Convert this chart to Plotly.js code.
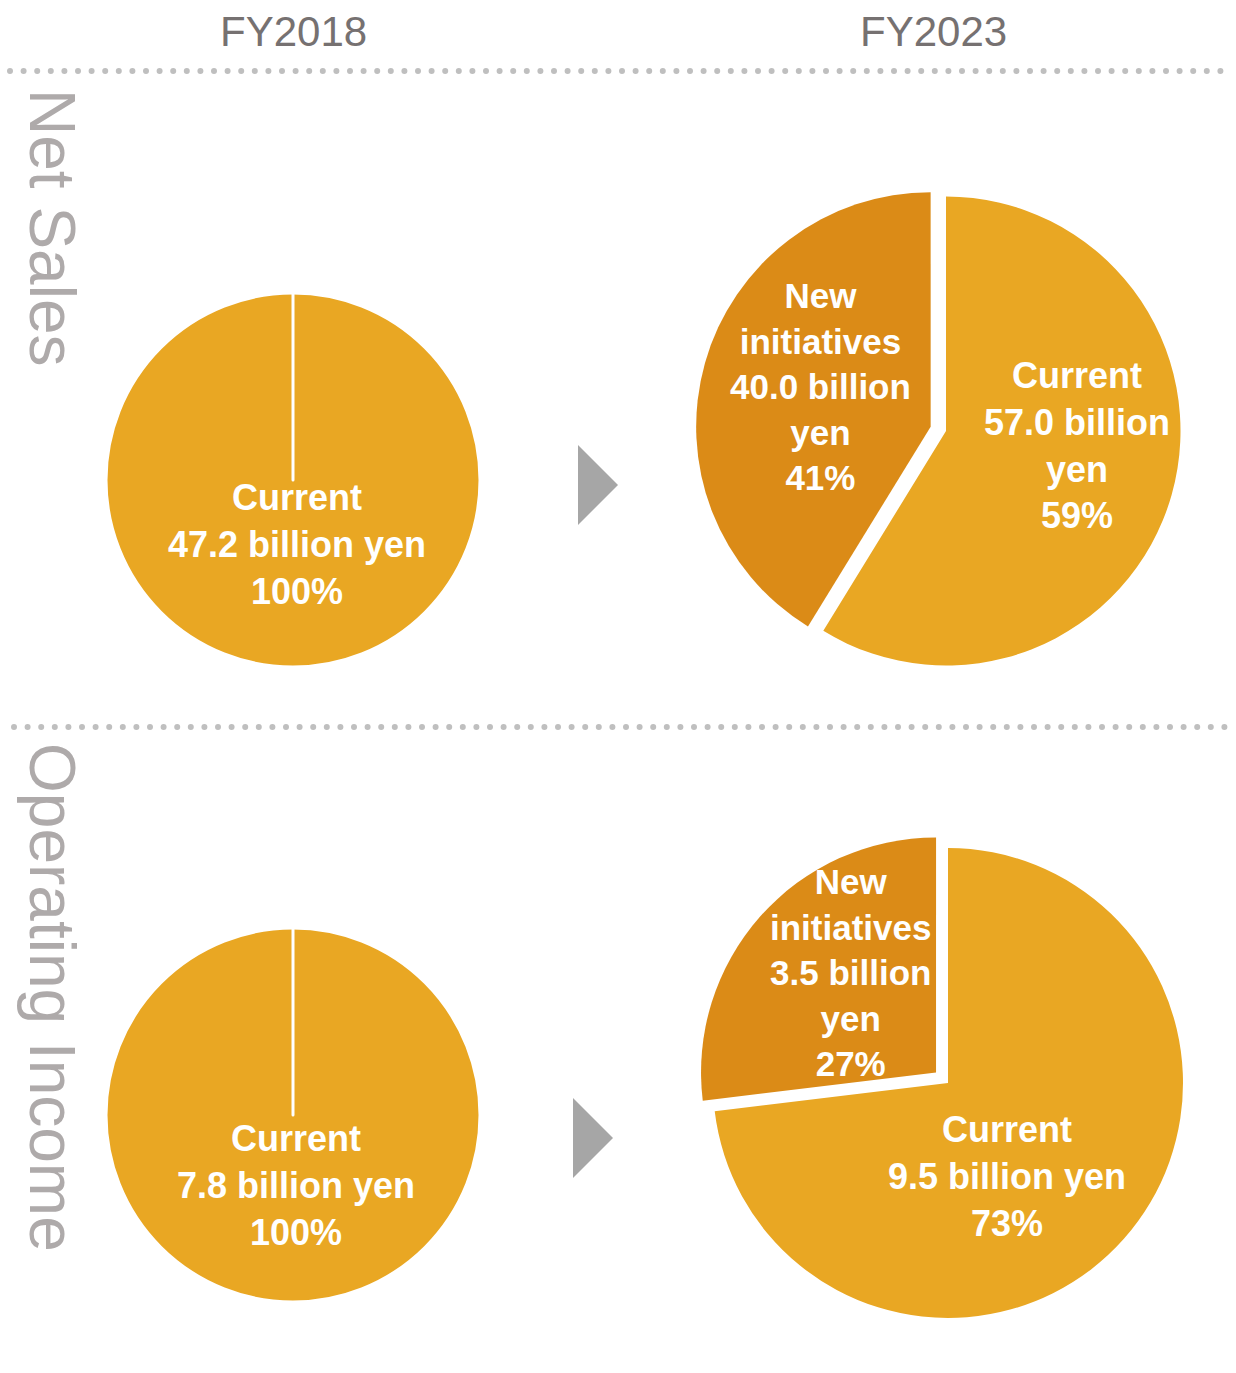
<!DOCTYPE html>
<html>
<head>
<meta charset="utf-8">
<script src="https://cdn.plot.ly/plotly-3.0.1.min.js"></script>
<style>
  html, body { margin: 0; padding: 0; background: #ffffff; }
  #chart { width: 1236px; height: 1373px; }
</style>
</head>
<body>
<div id="chart"></div>
<script>
// ---------------- DATA ----------------
const segments = ['Current', 'New initiatives'];
const years = ['FY2018', 'FY2023'];
const metrics = ['Net Sales', 'Operating Income'];
const netSalesFY2018 = [47.2, 0];     // billion yen
const netSalesFY2023 = [57.0, 40.0];  // billion yen
const opIncomeFY2018 = [7.8, 0];      // billion yen
const opIncomeFY2023 = [9.5, 3.5];    // billion yen
const unit = 'billion yen';

// ---------------- STYLE / LAYOUT ----------------
const W = 1236, H = 1373;
const colCurrent = '#E9A723';
const colNew = '#DB8B17';
const fx = p => p / W;
const fy = p => 1 - p / H;

// pie placement (pixel centre, radius, pull of 2nd slice)
const pies = [
  { vals: netSalesFY2018, cx: 293, cy: 480, r: 187, pull: 0 },
  { vals: netSalesFY2023, cx: 946, cy: 431, r: 234.5, pull: 0.068 },
  { vals: opIncomeFY2018, cx: 293, cy: 1115, r: 187, pull: 0 },
  { vals: opIncomeFY2023, cx: 948, cy: 1083, r: 235, pull: 0.068 }
];

const traces = pies.map(p => {
  const half = p.r * (1 + p.pull);
  return {
    type: 'pie',
    values: p.vals,
    labels: segments,
    sort: false,
    direction: 'clockwise',
    rotation: 0,
    pull: [0, p.pull],
    textinfo: 'none',
    hoverinfo: 'label+value+percent',
    showlegend: false,
    marker: {
      colors: [colCurrent, colNew],
      line: { color: '#ffffff', width: p.pull ? 0 : 3 }
    },
    domain: {
      x: [fx(p.cx - half), fx(p.cx + half)],
      y: [fy(p.cy + half), fy(p.cy - half)]
    }
  };
});

// label text builders
function pct(vals, i) {
  const t = vals.reduce((a, b) => a + b, 0);
  return Math.round(vals[i] / t * 100) + '%';
}
function labelText(vals, i, mode) {
  const name = mode === 'narrow' ? segments[i].replace(' ', '<br>') : segments[i];
  const v = vals[i].toFixed(1) + (mode === 'wide' ? ' ' + unit : ' billion<br>yen');
  return name + '<br>' + v + '<br>' + pct(vals, i);
}

// label positions (pixel centres) and font sizes
const labelSpecs = [
  { vals: netSalesFY2018, i: 0, mode: 'wide', x: 297, y: 544, size: 36 },
  { vals: netSalesFY2023, i: 1, mode: 'narrow', x: 820, y: 386, size: 35 },
  { vals: netSalesFY2023, i: 0, mode: 'mid', x: 1077, y: 445, size: 36 },
  { vals: opIncomeFY2018, i: 0, mode: 'wide', x: 296, y: 1185, size: 36 },
  { vals: opIncomeFY2023, i: 1, mode: 'narrow', x: 851, y: 972, size: 35 },
  { vals: opIncomeFY2023, i: 0, mode: 'wide', x: 1007, y: 1176, size: 36 }
];

const annotations = labelSpecs.map(s => ({
  xref: 'paper', yref: 'paper', x: fx(s.x), y: fy(s.y),
  xanchor: 'center', yanchor: 'middle', showarrow: false,
  text: labelText(s.vals, s.i, s.mode), align: 'center',
  font: { family: 'Liberation Sans, Arial, sans-serif', size: s.size, color: '#ffffff', weight: 'bold' }
}));

// column headers
const headerFont = { family: 'Liberation Sans, Arial, sans-serif', size: 42, color: '#767171' };
annotations.push(
  { xref: 'paper', yref: 'paper', x: fx(293), y: fy(31), xanchor: 'center', yanchor: 'middle',
    showarrow: false, text: years[0], font: headerFont },
  { xref: 'paper', yref: 'paper', x: fx(933), y: fy(31), xanchor: 'center', yanchor: 'middle',
    showarrow: false, text: years[1], font: headerFont }
);

// row labels (rotated)
const rowFont = { family: 'Liberation Sans, Arial, sans-serif', size: 64, color: '#AEAAAA' };
annotations.push(
  { xref: 'paper', yref: 'paper', x: fx(52), y: fy(227), xanchor: 'center', yanchor: 'middle',
    showarrow: false, text: metrics[0], textangle: 90, font: rowFont },
  { xref: 'paper', yref: 'paper', x: fx(52), y: fy(997), xanchor: 'center', yanchor: 'middle',
    showarrow: false, text: metrics[1], textangle: 90, font: rowFont }
);

// separators and arrows
function tri(x, y) {
  return 'M' + fx(x) + ',' + fy(y) + ' L' + fx(x) + ',' + fy(y + 80) +
         ' L' + fx(x + 40) + ',' + fy(y + 40) + ' Z';
}
const shapes = [
  { type: 'line', xref: 'paper', yref: 'paper', x0: fx(10), x1: fx(1232), y0: fy(71), y1: fy(71),
    line: { color: '#BFBFBF', width: 6, dash: 'dot' } },
  { type: 'line', xref: 'paper', yref: 'paper', x0: fx(14), x1: fx(1234), y0: fy(727), y1: fy(727),
    line: { color: '#BFBFBF', width: 6, dash: 'dot' } },
  { type: 'path', xref: 'paper', yref: 'paper', path: tri(578, 445),
    fillcolor: '#A6A6A6', line: { width: 0 } },
  { type: 'path', xref: 'paper', yref: 'paper', path: tri(573, 1098),
    fillcolor: '#A6A6A6', line: { width: 0 } }
];

const layout = {
  width: W, height: H,
  margin: { l: 0, r: 0, t: 0, b: 0 },
  paper_bgcolor: '#ffffff',
  plot_bgcolor: '#ffffff',
  showlegend: false,
  annotations: annotations,
  shapes: shapes
};

Plotly.newPlot('chart', traces, layout, { displayModeBar: false }).then(() => {
  // make separator dots round
  document.querySelectorAll('.shapelayer path').forEach(p => {
    const da = p.style.strokeDasharray || p.getAttribute('stroke-dasharray');
    if (da && p.style.strokeWidth && parseFloat(p.style.strokeWidth) === 6) {
      p.style.strokeDasharray = '0px, 13.6px';
      p.style.strokeLinecap = 'round';
    }
  });
});
</script>
</body>
</html>
